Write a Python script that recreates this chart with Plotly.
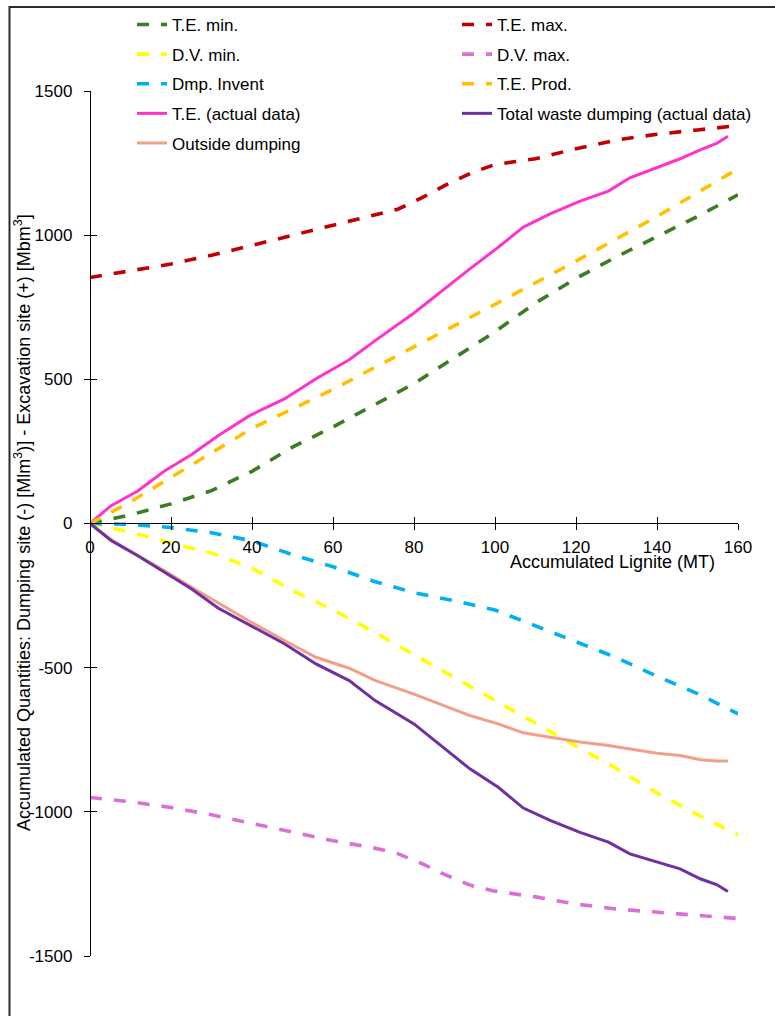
import plotly.graph_objects as go

# ---- Data ----
x_scn = [0, 10, 20, 30, 40, 50, 60, 70, 80, 90, 100, 110, 120, 130, 140, 150, 160]
te_min = [0, 30, 68, 114, 181, 265, 335, 410, 485, 575, 665, 765, 850, 925, 995, 1065, 1140]
dv_min = [0, -30, -68, -102, -155, -232, -300, -375, -455, -535, -615, -695, -772, -850, -935, -1010, -1080]
dmp_inv = [0, -3, -14, -32, -60, -108, -150, -200, -240, -268, -300, -355, -410, -465, -530, -590, -660]
te_prod_x = [0, 10, 20, 40, 60, 80, 100, 120, 140, 160]
te_prod = [0, 75, 160, 330, 465, 612, 760, 910, 1065, 1230]

x_max = [0, 10, 20, 30, 40, 50, 60, 70, 76, 82, 88, 94, 100, 110, 120, 130, 140, 150, 160]
te_max = [853, 875, 900, 930, 965, 1000, 1035, 1070, 1090, 1130, 1175, 1215, 1245, 1265, 1300, 1330, 1350, 1365, 1380]
dv_max = [-950, -965, -985, -1010, -1040, -1070, -1100, -1125, -1145, -1180, -1220, -1255, -1275, -1295, -1320, -1337, -1348, -1360, -1370]

x_act = [0, 5.2, 11.7, 18.3, 25.1, 31.7, 39.5, 48, 55.8, 64, 70.5, 80, 93.8, 100.8, 107, 113.6, 121, 128, 133.3, 140, 145.7, 150.8, 154.7, 157.5]
te_act = [0, 62, 112, 181, 239, 305, 375, 432, 502, 568, 635, 730, 883, 958, 1028, 1074, 1118, 1153, 1199, 1236, 1265, 1297, 1318, 1343]
tot_dump = [0, -59, -111, -169, -227, -294, -354, -417, -487, -545, -615, -695, -851, -915, -987, -1030, -1071, -1105, -1146, -1175, -1198, -1233, -1252, -1276]
out_dump = [0, -56, -110, -163, -221, -275, -340, -406, -464, -502, -545, -592, -666, -695, -726, -741, -758, -770, -781, -797, -805, -819, -824, -824]

x_ticks = [0, 20, 40, 60, 80, 100, 120, 140, 160]
y_ticks = [-1500, -1000, -500, 0, 500, 1000, 1500]
y_ticktext = ["-1500", "-1000", "-500", "0", "500", "1000", "1500"]

FONT = "Liberation Sans, Arial, sans-serif"
DASH = "12px,12px"

W, H = 775, 1016
# plot area in pixels (figure has zero margins, axes placed by domain)
PX0, PX1, PY0, PY1 = 90, 738, 91, 956

def px(x):
    return x / W

def py(y):
    return 1 - y / H

fig = go.Figure()

def add(x, y, name, color, dash, legend, width=3.6):
    fig.add_trace(go.Scatter(
        x=x, y=y, mode="lines", name=name, legend=legend, legendgroup=name,
        line=dict(color=color, width=width, dash=dash)))

# column 1 legend
add(x_scn, te_min, "T.E. min.", "#3A7D22", DASH, "legend")
add(x_scn, dv_min, "D.V. min.", "#FFFF00", DASH, "legend")
add(x_scn, dmp_inv, "Dmp. Invent", "#00B0F0", DASH, "legend")
add(x_act, te_act, "T.E. (actual data)", "#FF33CC", "solid", "legend", 3)
add(x_act, out_dump, "Outside dumping", "#F0A088", "solid", "legend", 3)
# column 2 legend
add(x_max, te_max, "T.E. max.", "#C00000", DASH, "legend2")
add(x_max, dv_max, "D.V. max.", "#DA70D6", DASH, "legend2")
add(te_prod_x, te_prod, "T.E. Prod.", "#FFC000", DASH, "legend2")
add(x_act, tot_dump, "Total waste dumping (actual data)", "#7030A0", "solid", "legend2", 3)

# invisible trace on twin axes (inside ticks -> crossing ticks)
fig.add_trace(go.Scatter(x=[0, 160], y=[0, 0], xaxis="x2", yaxis="y2", mode="lines",
                         line=dict(width=0, color="rgba(0,0,0,0)"),
                         showlegend=False, hoverinfo="skip"))

axis_common = dict(showgrid=False, zeroline=False, showline=True,
                   linecolor="black", linewidth=1.3, tickcolor="black",
                   tickwidth=1.3, ticklen=6, automargin=False)

xdom = [px(PX0), px(PX1)]
ydom = [py(PY1), py(PY0)]
xpos = py(523)   # y = 0 line
ypos = px(PX0)

fig.update_layout(
    width=W, height=H,
    margin=dict(l=0, r=0, t=0, b=0, pad=0, autoexpand=False),
    paper_bgcolor="white", plot_bgcolor="white",
    font=dict(family=FONT, size=17, color="black"),
    xaxis=dict(range=[0, 160], domain=xdom, tickvals=x_ticks, ticks="outside",
               anchor="free", position=xpos, ticklabelstandoff=2,
               tickfont=dict(size=17), **axis_common),
    yaxis=dict(range=[-1500, 1500], domain=ydom, tickvals=y_ticks, ticktext=y_ticktext,
               ticks="outside", anchor="free", position=ypos, ticklabelstandoff=8,
               tickfont=dict(size=17), **axis_common),
    xaxis2=dict(range=[0, 160], domain=xdom, tickvals=x_ticks, ticks="inside",
                overlaying="x", anchor="free", position=xpos,
                showticklabels=False, **axis_common),
    yaxis2=dict(range=[-1500, 1500], domain=ydom, tickvals=y_ticks, ticks="inside",
                overlaying="y", anchor="free", position=ypos,
                showticklabels=False, **axis_common),
    legend=dict(x=px(132), y=py(7), xanchor="left", yanchor="top",
                bgcolor="rgba(0,0,0,0)", tracegroupgap=4.5, traceorder="grouped",
                font=dict(size=17, family=FONT)),
    legend2=dict(x=px(457), y=py(7), xanchor="left", yanchor="top",
                 bgcolor="rgba(0,0,0,0)", tracegroupgap=4.5, traceorder="grouped",
                 font=dict(size=17, family=FONT)),
    showlegend=True,
)

# Axis titles as annotations for exact placement
fig.add_annotation(
    text="Accumulated Quantities: Dumping site (-) [Mlm<sup>3</sup>)] - Excavation site (+) [Mbm<sup>3</sup>]",
    xref="paper", yref="paper", x=px(22), y=py(523), textangle=-90,
    showarrow=False, xanchor="center", yanchor="middle",
    font=dict(size=18, family=FONT, color="black"))
fig.add_annotation(
    text="Accumulated Lignite (MT)", xref="paper", yref="paper",
    x=px(612), y=py(562), showarrow=False,
    xanchor="center", yanchor="middle", font=dict(size=18, family=FONT, color="black"))

# outer frame (top and left edges visible in the picture), drawn as a path
fx = 9.5 / W
fy = py(7)
fig.add_shape(type="path", xref="paper", yref="paper",
              path=f"M {fx},0 L {fx},{fy} L 1,{fy}",
              line=dict(color="#2b2b2b", width=2.0), layer="above")

fig.write_html("out.html", config={"displayModeBar": False},
               post_script="document.body.style.margin='0px';document.body.style.overflow='hidden';")
